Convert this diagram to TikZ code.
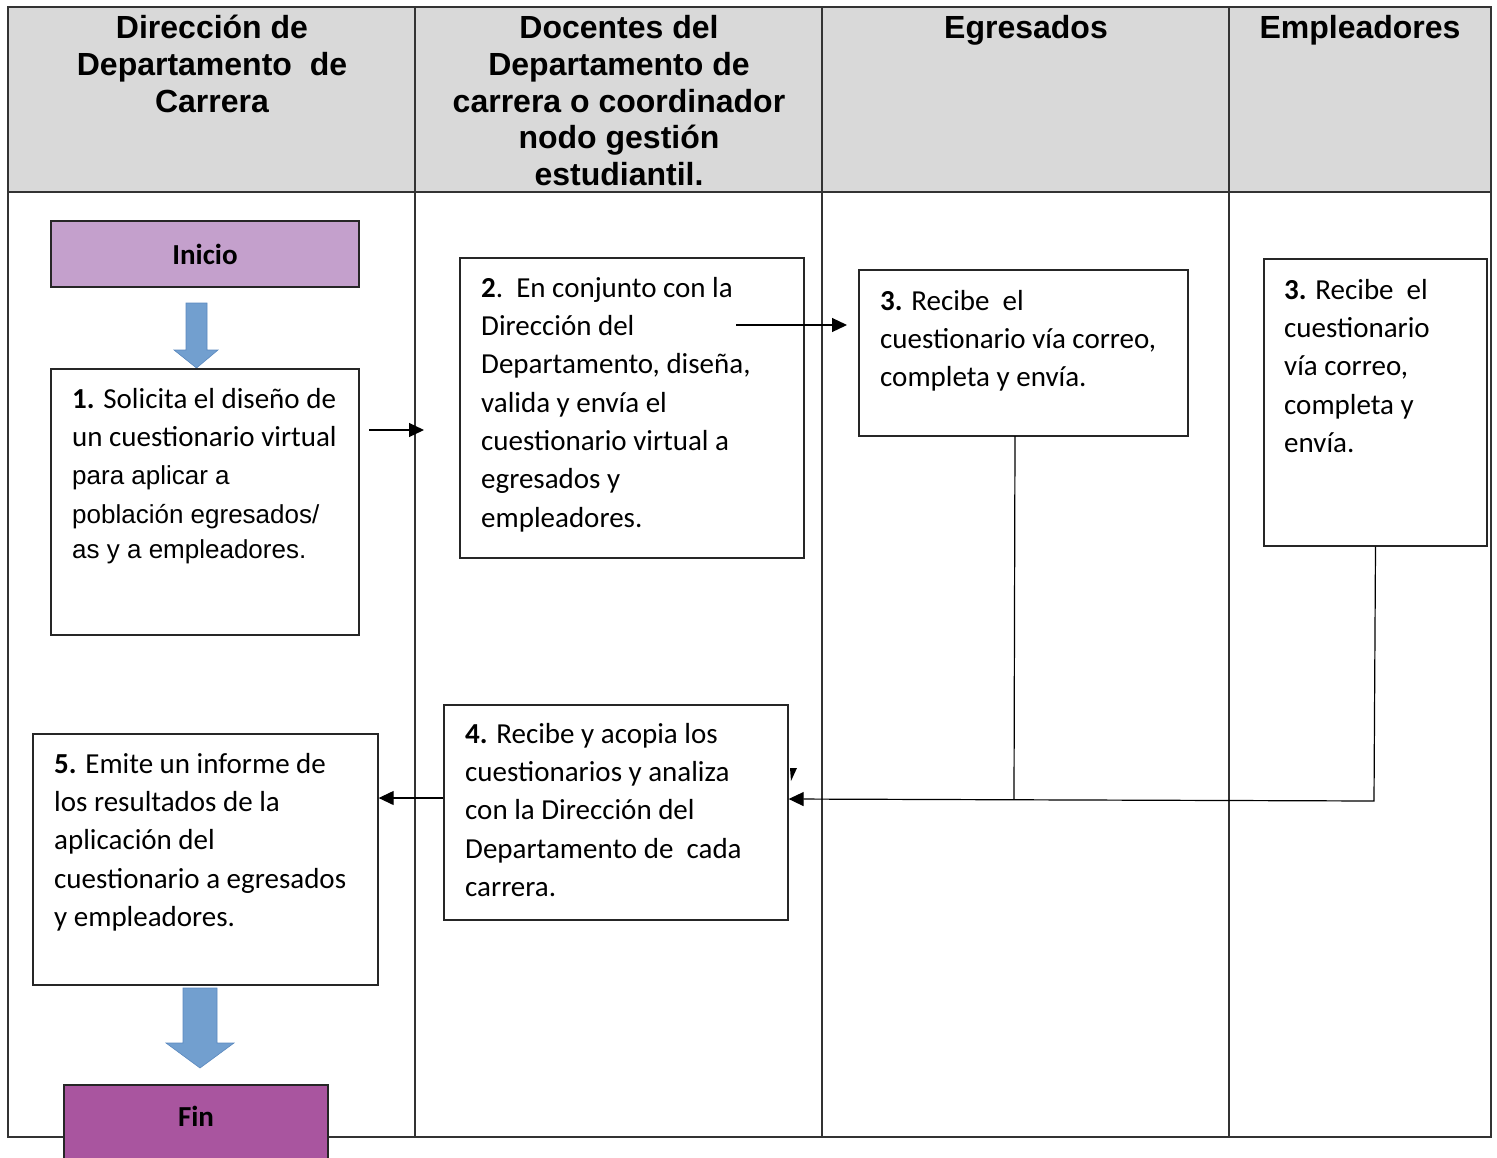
\documentclass[tikz,border=0pt]{standalone}
\usepackage{fontspec}
\setmainfont{Carlito}
\newfontfamily\arialf{Liberation Sans}
\usetikzlibrary{arrows.meta}
\definecolor{hdrgray}{HTML}{D9D9D9}
\definecolor{inicol}{HTML}{C4A0CC}
\definecolor{fincol}{HTML}{A9559F}
\definecolor{bluefill}{HTML}{729FCF}
\definecolor{blueedge}{HTML}{5A88BE}
\tikzset{
  boxstyle/.style={draw=black!85, line width=1.3pt, fill=white, inner sep=0pt},
  tabline/.style={draw=black!80, line width=1.5pt},
  bodytext/.style={anchor=north west, inner sep=0pt, align=left, font=\fontsize{29}{38.3}\selectfont},
  hdrtext/.style={anchor=north, inner sep=0pt, align=center, font=\arialf\bfseries\fontsize{32}{36.7}\selectfont},
  conn/.style={line width=1.2pt, draw=black},
  arr/.style={conn, -{Triangle[length=15pt,width=14pt]}},
  bluearrow/.style={fill=bluefill, draw=blueedge, line width=0.6pt},
  termtext/.style={inner sep=0pt, font=\bfseries\fontsize{29}{34}\selectfont},
}
\newcommand{\arl}[1]{{\arialf\fontsize{26}{38.3}\selectfont #1}}
\begin{document}
\begin{tikzpicture}[x=1pt,y=-1pt]
\useasboundingbox (0,0) rectangle (1497,1157);
% table
\fill[hdrgray] (8,7) rectangle (1491,192);
\draw[tabline] (8,7) rectangle (1491,1137);
\draw[tabline] (8,192) -- (1491,192);
\draw[tabline] (415,7) -- (415,1137);
\draw[tabline] (822,7) -- (822,1137);
\draw[tabline] (1229,7) -- (1229,1137);
% headers
\node[hdrtext] (h1) at (212,13) {\strut Dirección de\\ Departamento\ \ de\\ Carrera};
\node[hdrtext] (h2) at (619,13) {\strut Docentes del\\ Departamento de\\ carrera o coordinador\\ nodo gestión\\ estudiantil.};
\node[hdrtext] (h3) at (1026,13) {\strut Egresados};
\node[hdrtext] (h4) at (1360,13) {\strut Empleadores};
% block arrows
\filldraw[bluearrow] (186,303) -- (207,303) -- (207,350) -- (218,350) -- (196.5,368) -- (174,350) -- (186,350) -- cycle;
\filldraw[bluearrow] (183,988) -- (217,988) -- (217,1043) -- (234,1043) -- (200,1068) -- (166,1043) -- (183,1043) -- cycle;
% boxes
\node[boxstyle, fill=inicol, minimum width=308pt, minimum height=66pt, font=\bfseries\fontsize{29}{34}\selectfont] (ini) at (205,254) {Inicio};
\node[boxstyle, minimum width=308pt, minimum height=266pt] (b1) at (205,502) {};
\node[boxstyle, minimum width=344pt, minimum height=300pt] (b2) at (632,408) {};
\node[boxstyle, minimum width=329pt, minimum height=166pt] (b3a) at (1023.5,353) {};
\node[boxstyle, minimum width=223pt, minimum height=287pt] (b3b) at (1375.5,402.5) {};
\node[boxstyle, minimum width=344pt, minimum height=215pt] (b4) at (616,812.5) {};
\node[boxstyle, minimum width=345pt, minimum height=251pt] (b5) at (205.5,859.5) {};
% texts
\node[bodytext] (t1) at (72,381.2) {\strut\textbf{1.} Solicita el diseño de\\ un cuestionario virtual\\ \arl{para aplicar a}\\ \arl{población egresados/}\\[-3pt] \arl{as y a empleadores.}};
\node[bodytext] (t2) at (481,270.2) {\strut\textbf{2}.\ \ En conjunto con la\\ Dirección del\\ Departamento, diseña,\\ valida y envía el\\ cuestionario virtual a\\ egresados y\\ empleadores.};
\node[bodytext] (t3a) at (880,283.2) {\strut\textbf{3.} Recibe\ \ el\\ cuestionario vía correo,\\ completa y envía.};
\node[bodytext] (t3b) at (1284,272.2) {\strut\textbf{3.} Recibe\ \ el\\ cuestionario\\ vía correo,\\ completa y\\ envía.};
\node[bodytext] (t4) at (465,716.2) {\strut\textbf{4.} Recibe y acopia los\\ cuestionarios y analiza\\ con la Dirección del\\ Departamento de\ \ cada\\ carrera.};
\node[bodytext] (t5) at (54,746.2) {\strut\textbf{5.} Emite un informe de\\ los resultados de la\\ aplicación del\\ cuestionario a egresados\\ y empleadores.};
% connectors
\coordinate (a1s) at (369,430);
\coordinate (a1e) at (424,430);
\draw[arr] (a1s) -- (a1e);
\coordinate (a2s) at (736,325);
\coordinate (a2e) at (847,325);
\draw[arr] (a2s) -- (a2e);
\coordinate (s3a) at (1015,436);
\coordinate (j1) at (1014,799);
\coordinate (j2) at (1374,801);
\draw[conn] (s3a) -- (j1);
\draw[arr] (b3b.south) -- (j2) -- (b4.east |- j1);
\coordinate (r45) at (0,798);
\draw[arr] (b4.west |- r45) -- (b5.east |- r45);
\fill (790,768) -- (797,768) -- (791,781) -- cycle;
% fin
\node[boxstyle, fill=fincol, minimum width=264pt, minimum height=90pt] (fin) at (196,1130) {};
\node[termtext] (fint) at (196,1116) {Fin};
\end{tikzpicture}
\end{document}
